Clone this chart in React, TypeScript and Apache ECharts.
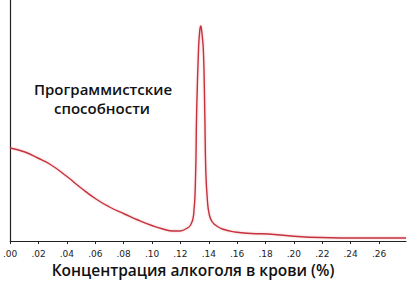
import React, { useEffect, useRef } from "react";
import * as echarts from "echarts";

const concentration: number[] = [
  0.0, 0.0104, 0.0195, 0.0278, 0.0396, 0.05, 0.0605, 0.07, 0.0806, 0.09, 0.1008,
  0.1077, 0.1147, 0.1196, 0.1237, 0.1272, 0.1293, 0.1307, 0.1314, 0.1328, 0.1336,
  0.1343, 0.135, 0.1362, 0.1372, 0.1379, 0.139, 0.1404, 0.1425, 0.1446, 0.1495,
  0.1585, 0.17, 0.1821, 0.1981, 0.219, 0.2468, 0.279,
];
const skill: number[] = [
  93, 89, 83, 77, 65, 53, 42, 34, 27, 21, 15,
  12, 10, 10, 12, 16, 26, 66, 126, 193, 210,
  215, 210, 190, 126, 70, 41, 26, 19, 16, 12,
  9, 7.5, 7, 5, 3.5, 3, 3,
];
const xTitle = "Концентрация алкоголя в крови (%)";
const yNoteLines: string[] = ["Программистские", "способности"];

export default function App() {
  const ref = useRef<HTMLDivElement>(null);
  useEffect(() => {
    if (!ref.current) return;
    const chart = echarts.init(ref.current, null, { renderer: "svg" });
    const noteStyle = {
      align: "center",
      verticalAlign: "middle",
      fontFamily: "Open Sans",
      fontSize: 15,
      fontWeight: 600,
      fill: "#111",
    };
    chart.setOption({
      animation: false,
      backgroundColor: "#ffffff",
      grid: { left: 5, right: 13, top: 0, bottom: 42 },
      xAxis: {
        type: "value",
        min: 0,
        max: 0.279,
        interval: 0.02,
        axisLine: { show: true, lineStyle: { color: "#222", width: 1.2 } },
        axisTick: { show: true, inside: false, length: 3, lineStyle: { color: "#222", width: 1 } },
        splitLine: { show: false },
        axisLabel: {
          show: true,
          margin: 8,
          fontSize: 9,
          fontFamily: "DejaVu Sans",
          color: "#222",
          showMaxLabel: false,
          formatter: (v: number) => {
            const s = Math.round(v * 100).toString().padStart(2, "0");
            return "." + s;
          },
        },
      },
      yAxis: {
        type: "value",
        min: 0,
        max: 241,
        axisLine: { show: true, lineStyle: { color: "#222", width: 1.2 } },
        axisTick: { show: false },
        axisLabel: { show: false },
        splitLine: { show: false },
      },
      graphic: [
        { type: "text", x: 103, y: 89, style: { ...noteStyle, text: yNoteLines[0] } },
        { type: "text", x: 102, y: 108, style: { ...noteStyle, text: yNoteLines[1] } },
        {
          type: "text",
          x: 193,
          y: 270,
          style: {
            text: xTitle,
            align: "center",
            verticalAlign: "middle",
            fontFamily: "Open Sans",
            fontSize: 15.5,
            fontWeight: 600,
            fill: "#111",
          },
        },
      ],
      series: [
        {
          type: "line",
          data: concentration.map((c, i) => [c, skill[i]]),
          showSymbol: false,
          smooth: 0.5,
          lineStyle: { color: "#c4303c", width: 1.4, shadowColor: "rgba(230,120,130,0.5)", shadowBlur: 2 },
        },
      ],
    });
    return () => chart.dispose();
  }, []);
  return (
    <div
      ref={ref}
      style={{ position: "absolute", left: 0, top: 0, width: 419, height: 283 }}
    />
  );
}
